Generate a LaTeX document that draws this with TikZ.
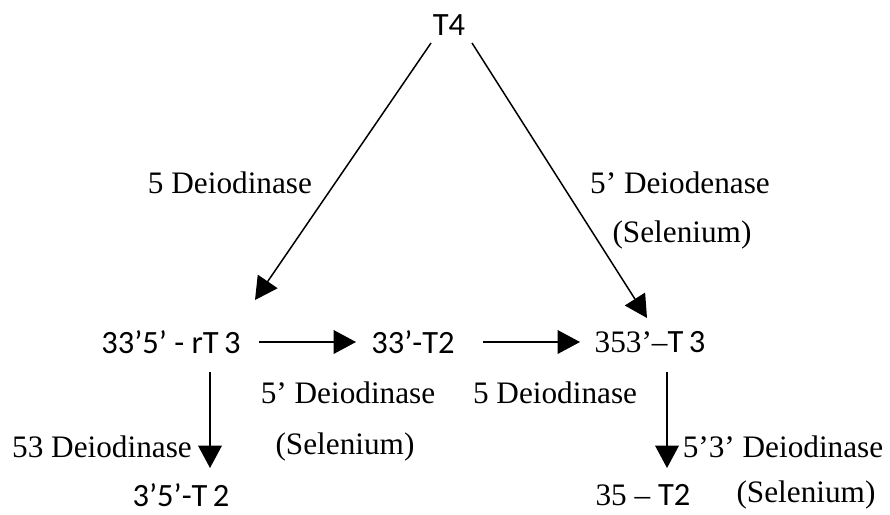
\documentclass[tikz,border=0pt]{standalone}
\usepackage{fontspec}
\setmainfont{Liberation Serif}
\newfontfamily\cmpfont{Carlito}
\usetikzlibrary{arrows.meta}
\tikzset{
  cmp/.style={font=\cmpfont\fontsize{13}{15}\selectfont, inner sep=0pt},
  enz/.style={font=\fontsize{12.5}{15}\selectfont, inner sep=0pt},
  arr/.style={line width=0.6pt, -{Triangle[length=9pt,width=9.5pt]}}
}
\begin{document}
\begin{tikzpicture}[x=0.4pt,y=-0.4pt]
\useasboundingbox (0,0) rectangle (890,514);
\node[cmp] (t4) at (449,25) {T4};
\node[cmp] (rt3) at (171,342) {33’5’ - rT\,3}; \node[cmp] (t2a) at (413,342) {33’-T2};
\node[cmp] (t3) at (650,342) {\rmfamily\fontsize{12.5}{15}\selectfont 353’–\cmpfont\fontsize{13}{15}\selectfont T\,3};
\node[cmp] (t2b) at (181,495) {3’5’-T\,2};
\node[cmp] (t2c) at (643,495) {\rmfamily\fontsize{12.5}{15}\selectfont 35 – \cmpfont\fontsize{13}{15}\selectfont T2};
\node[enz] (dA) at (230,183) {5 Deiodinase};
\node[enz] (dB) at (680,183) {5’ Deiodenase}; \node[enz] (sB) at (682,235) {(Selenium)};
\node[enz] (dC) at (348,393) {5’ Deiodinase}; \node[enz] (sC) at (345,447) {(Selenium)};
\node[enz] (dD) at (555,393) {5 Deiodinase};
\node[enz] (dE) at (102,447) {53 Deiodinase};
\node[enz] (dF) at (783,447) {5’3’ Deiodinase}; \node[enz] (sF) at (806,495) {(Selenium)};
% arrows
\draw[arr] ([shift={(-18,18)}]t4.center) -- ([shift={(84,-42)}]rt3.center);
\draw[arr] ([shift={(23,18)}]t4.center) -- ([shift={(-3,-24)}]t3.center);
\draw[arr] ([shift={(88,0)}]rt3.center) -- ([shift={(-57,0)}]t2a.center);
\draw[arr] ([shift={(70,0)}]t2a.center) -- ([shift={(-70,0)}]t3.center);
\draw[arr] ([shift={(39,30)}]rt3.center) -- ([shift={(29,-27)}]t2b.center);
\draw[arr] ([shift={(17,30)}]t3.center) -- ([shift={(24,-27)}]t2c.center);
\end{tikzpicture}
\end{document}
